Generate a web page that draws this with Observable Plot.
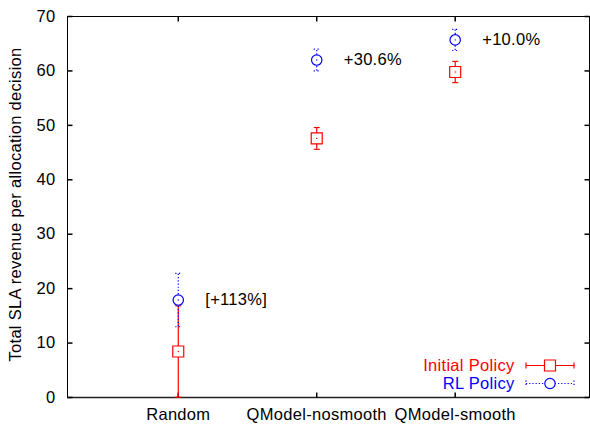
<!DOCTYPE html>
<html>
<head>
<meta charset="utf-8">
<script src="https://cdn.jsdelivr.net/npm/d3@7"></script>
<script src="https://cdn.jsdelivr.net/npm/@observablehq/plot@0.6"></script>
<style>
  html, body { margin: 0; padding: 0; background: #fff; }
  #chart svg { font-family: "Liberation Sans", Arial, sans-serif; }
  #chart svg text { letter-spacing: 0.3px; }
</style>
</head>
<body>
<div id="chart"></div>
<script>
// ---- data ----
const categories = ["Random", "QModel-nosmooth", "QModel-smooth"];
const initialMean = [8.45, 47.6, 59.8];
const initialErr = [8.4, 2.0, 1.95];
const rlMean = [17.9, 62.0, 65.7];
const rlErr = [4.9, 2.0, 1.95];
const gainLabels = ["[+113%]", "+30.6%", "+10.0%"];
const yTicks = [0, 10, 20, 30, 40, 50, 60, 70];
const seriesNames = ["Initial Policy", "RL Policy"];
const yTitle = "Total SLA revenue per allocation decision";

const RED = "#ff0000", BLUE = "#0000ff";

const initial = categories.map((c, i) => ({x: i + 1, mean: initialMean[i], lo: initialMean[i] - initialErr[i], hi: initialMean[i] + initialErr[i]}));
const rl = categories.map((c, i) => ({x: i + 1, mean: rlMean[i], lo: rlMean[i] - rlErr[i], hi: rlMean[i] + rlErr[i], label: gainLabels[i]}));

// custom line symbols
const sym = (f) => ({draw(ctx) { f(ctx); }});
const hcap = sym(c => { c.moveTo(-3, 0); c.lineTo(3, 0); });
const vcap = sym(c => { c.moveTo(0, -3); c.lineTo(0, 3); });
const tickL = sym(c => { c.moveTo(0, 0); c.lineTo(5, 0); });
const tickR = sym(c => { c.moveTo(0, 0); c.lineTo(-5, 0); });
const tickB = sym(c => { c.moveTo(0, 0); c.lineTo(0, -5); });
const tickT = sym(c => { c.moveTo(0, 0); c.lineTo(0, 5); });
const legLine = sym(c => { c.moveTo(-24, 0); c.lineTo(24, 0); });

const FS = 16.5;

const chart = Plot.plot({
  width: 590,
  height: 424,
  marginLeft: 67,
  marginRight: 1,
  marginTop: 16,
  marginBottom: 27,
  style: {fontFamily: "Liberation Sans, Arial, sans-serif", fontSize: FS + "px", background: "white"},
  x: {domain: [0.2, 3.97], ticks: [1, 2, 3], tickFormat: d => categories[d - 1]},
  y: {domain: [0, 70], ticks: yTicks},
  marks: [
    Plot.frame({stroke: "black"}),
    Plot.ruleY([0], {stroke: "#222", strokeWidth: 1.5}),
    // axes labels
    Plot.axisY(yTicks, {tickSize: 0, tickPadding: 12, fontSize: FS, fill: "black", label: null}),
    Plot.axisX([1, 2, 3], {tickSize: 0, tickPadding: 11, fontSize: FS, fill: "black", label: null, tickFormat: d => categories[d - 1]}),
    // inward ticks
    Plot.dot(yTicks, {y: d => d, frameAnchor: "left", symbol: tickL, stroke: "black", fill: "none"}),
    Plot.dot(yTicks, {y: d => d, frameAnchor: "right", symbol: tickR, stroke: "black", fill: "none"}),
    Plot.dot([1, 2, 3], {x: d => d, frameAnchor: "bottom", symbol: tickB, stroke: "black", fill: "none"}),
    Plot.dot([1, 2, 3], {x: d => d, frameAnchor: "top", symbol: tickT, stroke: "black", fill: "none"}),
    // y label
    Plot.text([yTitle], {text: d => d, frameAnchor: "left", textAnchor: "middle", lineAnchor: "middle", rotate: -90, dx: -52, dy: -2.5, fontSize: FS, fill: "black"}),
    // initial policy error bars
    Plot.ruleX(initial, {x: "x", y1: d => Math.max(0, d.lo), y2: "hi", stroke: RED, strokeWidth: 1.2}),
    Plot.dot(initial, {x: "x", y: "lo", symbol: hcap, stroke: RED, fill: "none", strokeWidth: 1.2}),
    Plot.dot(initial, {x: "x", y: "hi", symbol: hcap, stroke: RED, fill: "none", strokeWidth: 1.2}),
    // RL error bars (dotted)
    Plot.ruleX(rl, {x: "x", y1: "lo", y2: "hi", stroke: BLUE, strokeWidth: 1.2, strokeDasharray: "1.2,2"}),
    Plot.dot(rl, {x: "x", y: "lo", symbol: hcap, stroke: BLUE, fill: "none", strokeWidth: 1.2, strokeDasharray: "1.2,2.5"}),
    Plot.dot(rl, {x: "x", y: "hi", symbol: hcap, stroke: BLUE, fill: "none", strokeWidth: 1.2, strokeDasharray: "1.2,2.5"}),
    // markers
    Plot.dot(initial, {x: "x", y: "mean", symbol: "square", r: 6.2, stroke: RED, fill: "white", strokeWidth: 1.2}),
    Plot.dot(initial, {x: "x", y: "mean", r: 0.7, fill: RED}),
    Plot.dot(rl, {x: "x", y: "mean", symbol: "circle", r: 5.2, stroke: BLUE, fill: "white", strokeWidth: 1.2}),
    Plot.dot(rl, {x: "x", y: "mean", r: 0.7, fill: BLUE}),
    // gain labels
    Plot.text(rl, {x: "x", y: "mean", text: "label", dx: 27, textAnchor: "start", lineAnchor: "middle", fontSize: FS, fill: "black"}),
    // legend
    Plot.text([seriesNames[0]], {text: d => d, frameAnchor: "bottom-right", dx: -75, dy: -32, textAnchor: "end", lineAnchor: "middle", fill: RED, fontSize: FS}),
    Plot.text([seriesNames[1]], {text: d => d, frameAnchor: "bottom-right", dx: -75, dy: -14, textAnchor: "end", lineAnchor: "middle", fill: BLUE, fontSize: FS}),
    Plot.dot([seriesNames[0]], {frameAnchor: "bottom-right", dx: -39.5, dy: -32, symbol: legLine, stroke: RED, fill: "none", strokeWidth: 1.2}),
    Plot.dot([seriesNames[0]], {frameAnchor: "bottom-right", dx: -63.5, dy: -32, symbol: vcap, stroke: RED, fill: "none", strokeWidth: 1.2}),
    Plot.dot([seriesNames[0]], {frameAnchor: "bottom-right", dx: -15.5, dy: -32, symbol: vcap, stroke: RED, fill: "none", strokeWidth: 1.2}),
    Plot.dot([seriesNames[0]], {frameAnchor: "bottom-right", dx: -39.5, dy: -32, symbol: "square", r: 6.2, stroke: RED, fill: "white", strokeWidth: 1.2}),
    Plot.dot([seriesNames[1]], {frameAnchor: "bottom-right", dx: -39.5, dy: -14, symbol: legLine, stroke: BLUE, fill: "none", strokeWidth: 1.2, strokeDasharray: "1.2,2"}),
    Plot.dot([seriesNames[1]], {frameAnchor: "bottom-right", dx: -63.5, dy: -14, symbol: vcap, stroke: BLUE, fill: "none", strokeWidth: 1.2, strokeDasharray: "1.2,2"}),
    Plot.dot([seriesNames[1]], {frameAnchor: "bottom-right", dx: -15.5, dy: -14, symbol: vcap, stroke: BLUE, fill: "none", strokeWidth: 1.2, strokeDasharray: "1.2,2"}),
    Plot.dot([seriesNames[1]], {frameAnchor: "bottom-right", dx: -39.5, dy: -14, symbol: "circle", r: 5.2, stroke: BLUE, fill: "white", strokeWidth: 1.2})
  ]
});
document.getElementById("chart").appendChild(chart);
</script>
</body>
</html>
